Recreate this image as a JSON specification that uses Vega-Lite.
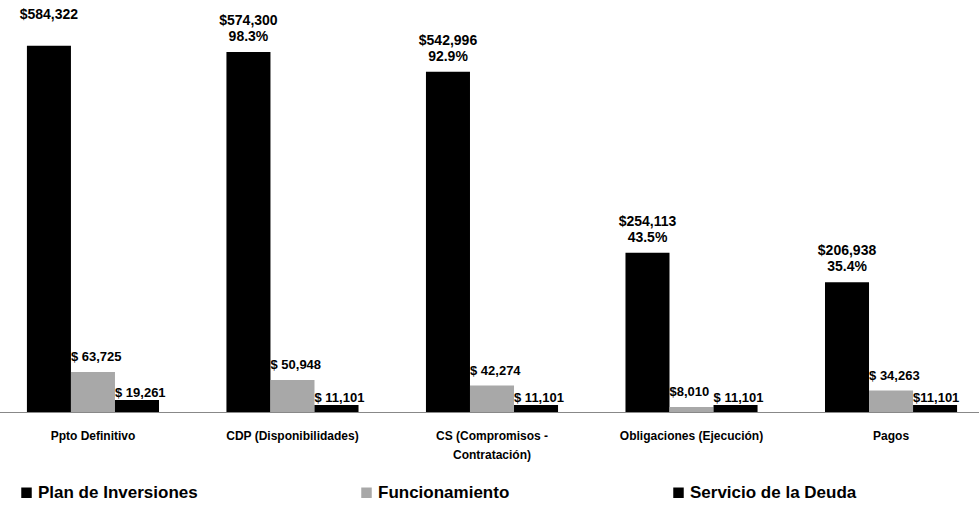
{
  "$schema": "https://vega.github.io/schema/vega-lite/v6.json",
  "autosize": {"type": "none"},
  "width": 998,
  "height": 376,
  "padding": {"left": -7, "top": 36, "right": -12, "bottom": 96},
  "background": "white",
  "config": {"view": {"stroke": null}, "font": "Liberation Sans"},
  "data": {
    "values": [
      {"cat": "Ppto Definitivo", "serie": "Plan de Inversiones", "valor": 584322, "label": "$584,322", "pct": ""},
      {"cat": "Ppto Definitivo", "serie": "Funcionamiento", "valor": 63725, "label": "$ 63,725", "pct": ""},
      {"cat": "Ppto Definitivo", "serie": "Servicio de la Deuda", "valor": 19261, "label": "$ 19,261", "pct": ""},
      {"cat": "CDP (Disponibilidades)", "serie": "Plan de Inversiones", "valor": 574300, "label": "$574,300", "pct": "98.3%"},
      {"cat": "CDP (Disponibilidades)", "serie": "Funcionamiento", "valor": 50948, "label": "$ 50,948", "pct": ""},
      {"cat": "CDP (Disponibilidades)", "serie": "Servicio de la Deuda", "valor": 11101, "label": "$ 11,101", "pct": ""},
      {"cat": "CS (Compromisos - Contratación)", "serie": "Plan de Inversiones", "valor": 542996, "label": "$542,996", "pct": "92.9%"},
      {"cat": "CS (Compromisos - Contratación)", "serie": "Funcionamiento", "valor": 42274, "label": "$ 42,274", "pct": ""},
      {"cat": "CS (Compromisos - Contratación)", "serie": "Servicio de la Deuda", "valor": 11101, "label": "$ 11,101", "pct": ""},
      {"cat": "Obligaciones (Ejecución)", "serie": "Plan de Inversiones", "valor": 254113, "label": "$254,113", "pct": "43.5%"},
      {"cat": "Obligaciones (Ejecución)", "serie": "Funcionamiento", "valor": 8010, "label": "$8,010", "pct": ""},
      {"cat": "Obligaciones (Ejecución)", "serie": "Servicio de la Deuda", "valor": 11101, "label": "$ 11,101", "pct": ""},
      {"cat": "Pagos", "serie": "Plan de Inversiones", "valor": 206938, "label": "$206,938", "pct": "35.4%"},
      {"cat": "Pagos", "serie": "Funcionamiento", "valor": 34263, "label": "$ 34,263", "pct": ""},
      {"cat": "Pagos", "serie": "Servicio de la Deuda", "valor": 11101, "label": "$11,101", "pct": ""}
    ]
  },
  "encoding": {
    "x": {
      "field": "cat",
      "type": "nominal",
      "sort": ["Ppto Definitivo", "CDP (Disponibilidades)", "CS (Compromisos - Contratación)", "Obligaciones (Ejecución)", "Pagos"],
      "scale": {"paddingInner": 0.338, "paddingOuter": 0.17},
      "axis": {
        "title": null,
        "labelAngle": 0,
        "labelFontSize": 12,
        "labelFontWeight": "bold",
        "labelColor": "black",
        "labelPadding": 18,
        "labelLineHeight": 19,
        "labelExpr": "datum.label == 'CS (Compromisos - Contratación)' ? ['CS (Compromisos -', 'Contratación)'] : datum.label",
        "ticks": false,
        "domainColor": "#888888",
        "domainWidth": 1
      }
    },
    "xOffset": {
      "field": "serie",
      "type": "nominal",
      "scale": {"domain": ["Plan de Inversiones", "Funcionamiento", "Servicio de la Deuda"]}
    },
    "y": {
      "field": "valor",
      "type": "quantitative",
      "scale": {"domain": [0, 600000]},
      "axis": null
    }
  },
  "layer": [
    {
      "mark": {"type": "bar"},
      "encoding": {
        "color": {
          "field": "serie",
          "type": "nominal",
          "scale": {
            "domain": ["Plan de Inversiones", "Funcionamiento", "Servicio de la Deuda"],
            "range": ["#000000", "#a8a8a8", "#000000"]
          },
          "legend": {
            "title": null,
            "orient": "none",
            "legendX": 25,
            "legendY": 448,
            "direction": "horizontal",
            "symbolType": "square",
            "symbolSize": 110,
            "labelFontSize": 17,
            "labelFontWeight": "bold",
            "labelColor": "black",
            "labelLimit": 400,
            "columnPadding": 160,
            "labelOffset": 3
          }
        }
      }
    },
    {
      "transform": [{"filter": "datum.serie == 'Plan de Inversiones'"}],
      "mark": {"type": "text", "baseline": "bottom", "dy": -24, "fontSize": 14, "fontWeight": "bold", "color": "black"},
      "encoding": {"text": {"field": "label"}}
    },
    {
      "transform": [{"filter": "datum.serie == 'Plan de Inversiones'"}],
      "mark": {"type": "text", "baseline": "bottom", "dy": -8, "fontSize": 14, "fontWeight": "bold", "color": "black"},
      "encoding": {"text": {"field": "pct"}}
    },
    {
      "transform": [{"filter": "datum.serie == 'Funcionamiento'"}],
      "mark": {"type": "text", "align": "left", "baseline": "bottom", "dx": -22, "dy": -8, "fontSize": 13, "fontWeight": "bold", "color": "black"},
      "encoding": {"text": {"field": "label"}}
    },
    {
      "transform": [{"filter": "datum.serie == 'Servicio de la Deuda'"}],
      "mark": {"type": "text", "align": "left", "baseline": "bottom", "dx": -22, "dy": 0, "fontSize": 13, "fontWeight": "bold", "color": "black"},
      "encoding": {"text": {"field": "label"}}
    }
  ]
}
